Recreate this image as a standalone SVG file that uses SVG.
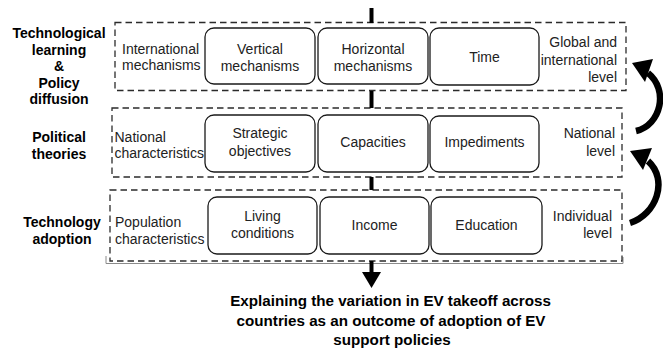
<svg xmlns="http://www.w3.org/2000/svg" width="663" height="359" viewBox="0 0 663 359">
  <style>
    .frame { fill: none; stroke: #2b2b2b; stroke-width: 1.3; stroke-dasharray: 6.5 4; }
    .node rect { fill: #ffffff; stroke: #1a1a1a; stroke-width: 1.3; }
    .t { font-family: "Liberation Sans", Arial, sans-serif; font-size: 14px; fill: #222222; }
    .c { text-anchor: middle; }
    .r { text-anchor: end; }
    .b { font-family: "Liberation Sans", Arial, sans-serif; font-size: 14px; font-weight: bold; fill: #000000; text-anchor: middle; }
    .big { font-size: 15.2px; }
    .bar { fill: #000000; }
    .curve { fill: none; stroke: #000000; stroke-width: 6.5; }
  </style>

  <rect width="663" height="359" fill="#ffffff"/>

  <!-- row labels -->
  <g id="label-learning">
    <text class="b" x="59" y="38">Technological</text>
    <text class="b" x="59" y="55">learning</text>
    <text class="b" x="59" y="71">&amp;</text>
    <text class="b" x="59" y="88">Policy</text>
    <text class="b" x="59" y="104">diffusion</text>
  </g>
  <g id="label-political">
    <text class="b" x="59" y="142">Political</text>
    <text class="b" x="59" y="159">theories</text>
  </g>
  <g id="label-adoption">
    <text class="b" x="62" y="227">Technology</text>
    <text class="b" x="62" y="244">adoption</text>
  </g>

  <!-- level frames -->
  <g id="frame-global">
    <rect class="frame" x="115" y="22.5" width="511" height="68"/>
    <text class="t" x="122" y="54">International</text>
    <text class="t" x="122" y="70">mechanisms</text>
    <text class="t r" x="617" y="47">Global and</text>
    <text class="t r" x="617" y="65">international</text>
    <text class="t r" x="617" y="82">level</text>
  </g>
  <g id="frame-national">
    <rect class="frame" x="112" y="108" width="510" height="69"/>
    <text class="t" x="114.5" y="142">National</text>
    <text class="t" x="114.5" y="158">characteristics</text>
    <text class="t r" x="615" y="138">National</text>
    <text class="t r" x="615" y="156">level</text>
  </g>
  <g id="frame-individual">
    <polyline points="106,256 106,263.5 623,263.5 623,257" fill="none" stroke="#8a8a8a" stroke-width="1"/>
    <rect class="frame" x="110" y="190" width="512" height="71"/>
    <text class="t" x="115" y="227">Population</text>
    <text class="t" x="115" y="244">characteristics</text>
    <text class="t r" x="612" y="221">Individual</text>
    <text class="t r" x="612" y="238">level</text>
  </g>

  <!-- factor nodes -->
  <g id="vertical" class="node">
    <rect x="205" y="28" width="110" height="56" rx="9"/>
    <text class="t c" x="260" y="54">Vertical</text>
    <text class="t c" x="260" y="71">mechanisms</text>
  </g>
  <g id="horizontal" class="node">
    <rect x="318" y="28" width="110" height="56" rx="9"/>
    <text class="t c" x="373" y="54">Horizontal</text>
    <text class="t c" x="373" y="71">mechanisms</text>
  </g>
  <g id="time" class="node">
    <rect x="430" y="28" width="109" height="57" rx="9"/>
    <text class="t c" x="484.5" y="62">Time</text>
  </g>
  <g id="strategic" class="node">
    <rect x="205" y="115" width="110" height="57" rx="9"/>
    <text class="t c" x="260" y="138">Strategic</text>
    <text class="t c" x="260" y="156">objectives</text>
  </g>
  <g id="capacities" class="node">
    <rect x="318" y="115" width="110" height="57" rx="9"/>
    <text class="t c" x="373" y="147">Capacities</text>
  </g>
  <g id="impediments" class="node">
    <rect x="430" y="116" width="109" height="56" rx="9"/>
    <text class="t c" x="484.5" y="147">Impediments</text>
  </g>
  <g id="living" class="node">
    <rect x="208" y="197" width="109" height="57" rx="9"/>
    <text class="t c" x="262.5" y="221">Living</text>
    <text class="t c" x="262.5" y="238">conditions</text>
  </g>
  <g id="income" class="node">
    <rect x="320" y="197" width="109" height="57" rx="9"/>
    <text class="t c" x="374.5" y="230">Income</text>
  </g>
  <g id="education" class="node">
    <rect x="431" y="197" width="111" height="57" rx="9"/>
    <text class="t c" x="486.5" y="230">Education</text>
  </g>

  <!-- outcome -->
  <g id="outcome">
    <text class="b big" x="390.5" y="306">Explaining the variation in EV takeoff across</text>
    <text class="b big" x="391" y="325.5">countries as an outcome of adoption of EV</text>
    <text class="b big" x="392" y="345">support policies</text>
  </g>

  <!-- connectors -->
  <g id="connectors">
    <rect class="bar" x="369.5" y="8" width="4" height="15"/>
    <rect class="bar" x="369.5" y="91" width="4" height="17"/>
    <rect class="bar" x="369.5" y="177" width="4" height="13"/>
    <rect class="bar" x="369.5" y="261" width="4" height="12"/>
    <polygon class="bar" points="362,272 381,272 371.5,288"/>

    <path class="curve" d="M 636 131 C 661 125 669 90 648 73"/>
    <polygon class="bar" points="632,63 653,59 645,82"/>

    <path class="curve" d="M 630 223 C 656 215 669 180 648 161"/>
    <polygon class="bar" points="630,151 652,148 643,170"/>
  </g>
</svg>
